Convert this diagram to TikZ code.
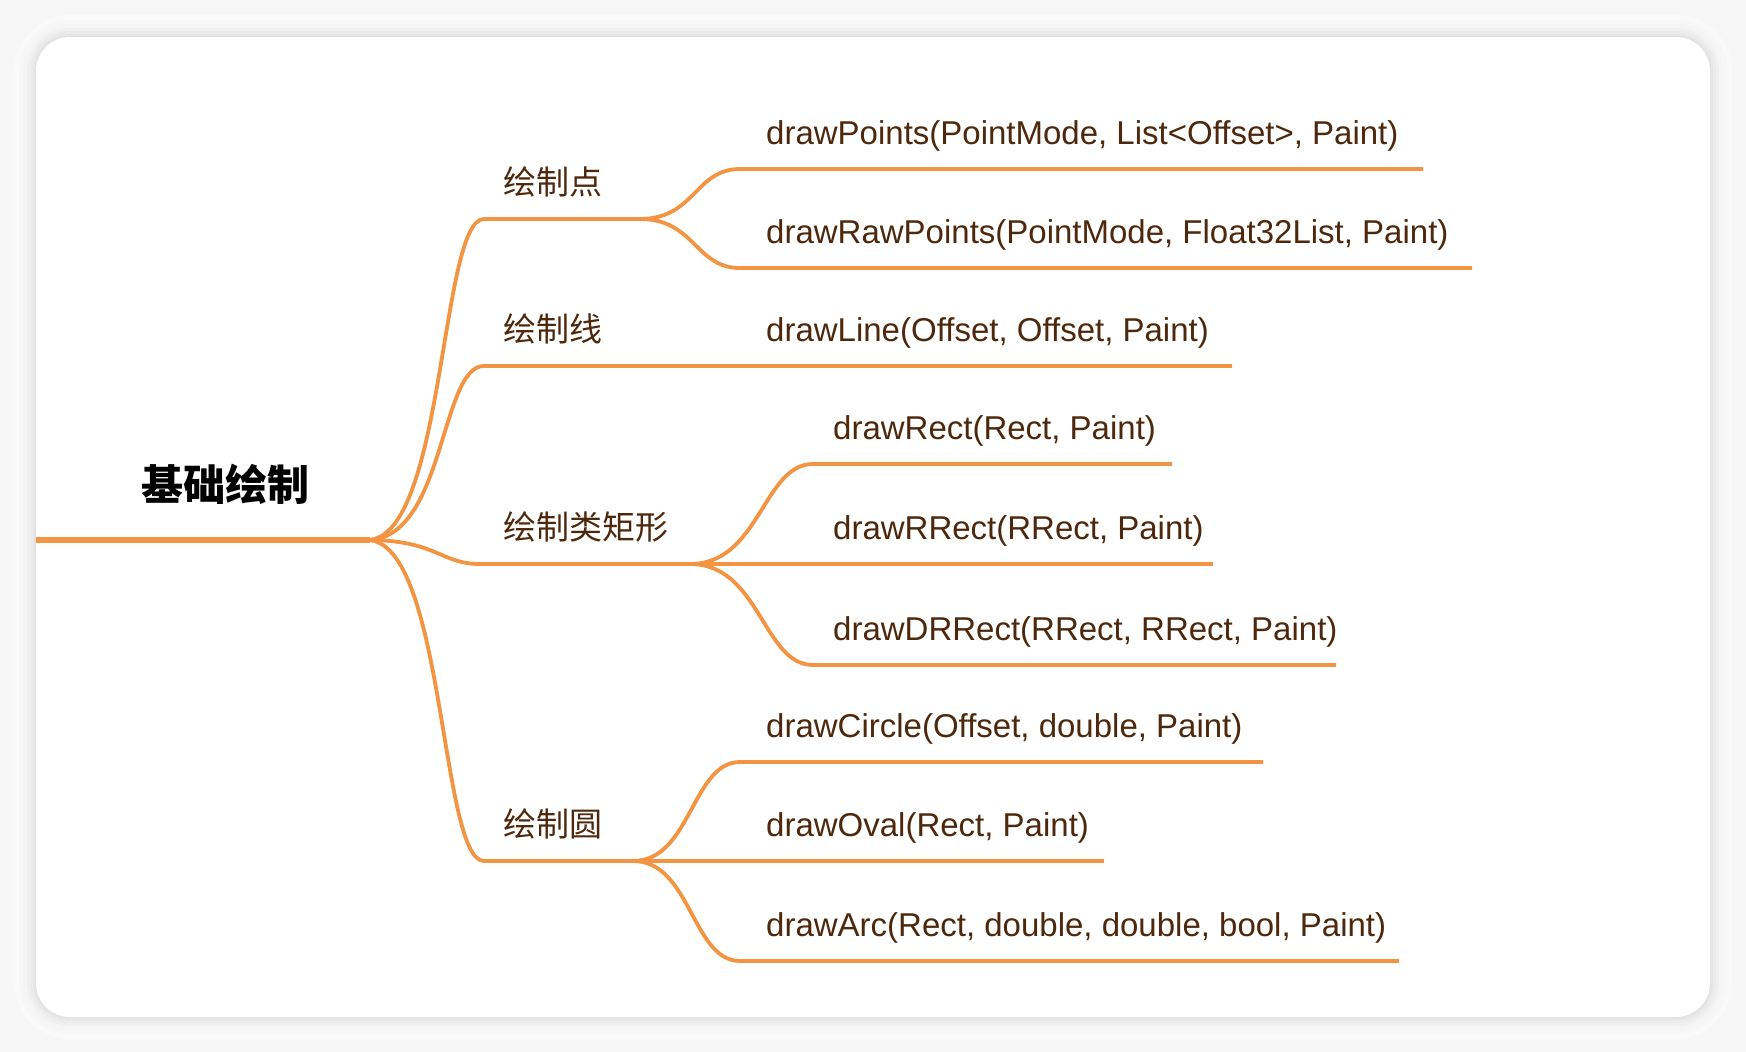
\documentclass[tikz,border=0pt]{standalone}
\usepackage{fontspec}
\setmainfont{Liberation Sans}
\newfontfamily\cjk{Noto Sans CJK SC}
\usetikzlibrary{calc}
\definecolor{mapline}{RGB}{242,148,66}
\definecolor{maptext}{RGB}{78,40,12}
\definecolor{pagebg}{RGB}{247,247,247}

\begin{document}
\begin{tikzpicture}[x=1pt,y=-1pt,
	leaf/.style={anchor=base west, inner sep=0pt, text=maptext, font=\fontsize{33}{33}\selectfont},
	topic/.style={anchor=base west, inner sep=0pt, text=maptext, font=\cjk\fontsize{33}{33}\selectfont},
	branch/.style={draw=mapline, line width=3.8pt},
	]
	\useasboundingbox[fill=pagebg] (0,0) rectangle (1746,1052);
	% card with soft shadow
	\foreach \d/\g in {22/2,17/3,13/4,9/6,6/8,3/10,1/11}
		\fill[black!\g, rounded corners=34pt+\d pt] (36-\d,37-\d) rectangle (1710+\d,1017+\d);
	\fill[white, rounded corners=34pt] (36,37) rectangle (1710,1017);

	% branch points
	\coordinate (start) at (36,540);
	\coordinate (root) at (367,540);
	\coordinate (pt) at (484,219);  \coordinate (ptS) at (640,219);
	\coordinate (ln) at (484,366);  \coordinate (lnE) at (1232,366);
	\coordinate (rc) at (480,564);  \coordinate (rcS) at (690,564);
	\coordinate (ci) at (484,861);  \coordinate (ciS) at (633,861);
	% leaf lines
	\coordinate (pt1) at (740,169); \coordinate (pt1E) at (1423,169);
	\coordinate (pt2) at (740,268); \coordinate (pt2E) at (1472,268);
	\coordinate (rc1) at (813,464); \coordinate (rc1E) at (1172,464);
	\coordinate (rc2E) at (1213,564);
	\coordinate (rc3) at (813,665); \coordinate (rc3E) at (1336,665);
	\coordinate (ci1) at (740,762); \coordinate (ci1E) at (1263,762);
	\coordinate (ci2E) at (1104,861);
	\coordinate (ci3) at (740,961); \coordinate (ci3E) at (1399,961);

	\draw[draw=mapline, line width=6.5pt] (start) -- ($(root)+(3,0)$);
	\draw[branch] (root) to[out=0, in=180, out distance=78pt, in distance=44pt] (pt) -- (ptS);
	\draw[branch] (root) to[out=0, in=180, out distance=78pt, in distance=44pt] (ln) -- (lnE);
	\draw[branch] (root) to[out=0, in=180, out distance=70pt, in distance=40pt] (rc) -- (rcS);
	\draw[branch] (root) to[out=0, in=180, out distance=78pt, in distance=44pt] (ci) -- (ciS);

	\draw[branch] (ptS) to[out=0, in=180, out distance=55pt, in distance=45pt] (pt1) -- (pt1E);
	\draw[branch] (ptS) to[out=0, in=180, out distance=55pt, in distance=45pt] (pt2) -- (pt2E);
	\draw[branch] (rcS) to[out=0, in=180, out distance=70pt, in distance=50pt] (rc1) -- (rc1E);
	\draw[branch] (rcS) -- (rc2E);
	\draw[branch] (rcS) to[out=0, in=180, out distance=70pt, in distance=50pt] (rc3) -- (rc3E);
	\draw[branch] (ciS) to[out=0, in=180, out distance=58pt, in distance=48pt] (ci1) -- (ci1E);
	\draw[branch] (ciS) -- (ci2E);
	\draw[branch] (ciS) to[out=0, in=180, out distance=58pt, in distance=48pt] (ci3) -- (ci3E);

	% labels
	\node[anchor=base, inner sep=0pt, font=\cjk\bfseries\fontsize{42}{42}\selectfont] (basic) at (225,500) {基础绘制};
	\node[topic] (tPoint) at (503,194) {绘制点};
	\node[topic] (tLine) at (503,341) {绘制线};
	\node[topic] (tRect) at (503,539) {绘制类矩形};
	\node[topic] (tCircle) at (503,836) {绘制圆};

	\node[leaf] (lPoints) at (766,144) {drawPoints(PointMode, List<Offset>, Paint)};
	\node[leaf] (lRawPoints) at (766,243) {drawRawPoints(PointMode, Float32List, Paint)};
	\node[leaf] (lLine) at (766,341) {drawLine(Offset, Offset, Paint)};
	\node[leaf] (lRect) at (833,439) {drawRect(Rect, Paint)};
	\node[leaf] (lRRect) at (833,539) {drawRRect(RRect, Paint)};
	\node[leaf] (lDRRect) at (833,640) {drawDRRect(RRect, RRect, Paint)};
	\node[leaf] (lCircle) at (766,737) {drawCircle(Offset, double, Paint)};
	\node[leaf] (lOval) at (766,836) {drawOval(Rect, Paint)};
	\node[leaf] (lArc) at (766,936) {drawArc(Rect, double, double, bool, Paint)};
\end{tikzpicture}
\end{document}
